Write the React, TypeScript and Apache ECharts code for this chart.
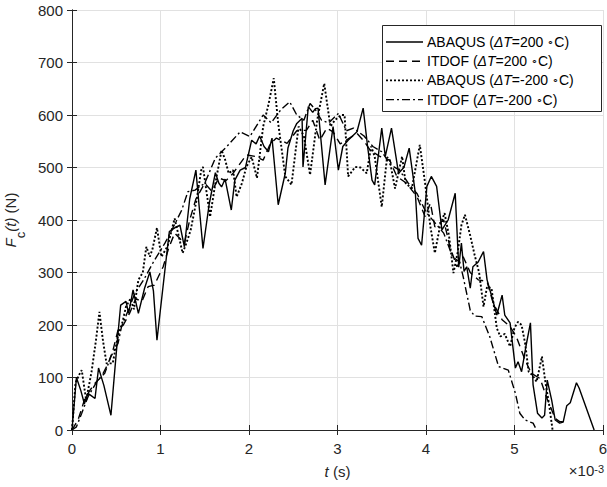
import React, { useEffect, useRef } from "react";
import * as echarts from "echarts";

// Time in units of 1e-3 s, cutting force in N
const abaqusHot: [number, number][] = [
  [0, 0], [0.05, 100], [0.1, 75], [0.14, 50], [0.18, 70], [0.22, 65], [0.26, 60], [0.3, 118],
  [0.36, 85], [0.44, 28], [0.51, 166], [0.55, 238], [0.61, 245], [0.64, 222], [0.69, 267],
  [0.75, 222], [0.82, 270], [0.88, 301], [0.92, 265], [0.96, 171], [1.05, 305], [1.1, 378],
  [1.16, 385], [1.22, 390], [1.27, 349], [1.33, 440], [1.4, 495], [1.44, 420], [1.48, 346],
  [1.55, 430], [1.62, 490], [1.66, 470], [1.69, 463], [1.73, 478], [1.8, 419], [1.84, 476],
  [1.9, 495], [1.96, 500], [2.03, 552], [2.08, 545], [2.12, 560], [2.17, 540], [2.22, 530],
  [2.26, 556], [2.33, 429], [2.41, 489], [2.44, 537], [2.5, 570], [2.54, 584], [2.6, 594],
  [2.61, 501], [2.67, 616], [2.72, 605], [2.75, 612], [2.78, 613], [2.86, 467], [2.95, 578],
  [3.01, 495], [3.06, 540], [3.12, 552], [3.22, 568], [3.29, 613], [3.34, 540], [3.39, 476],
  [3.42, 467], [3.5, 575], [3.54, 521], [3.61, 575], [3.69, 489], [3.75, 500], [3.81, 537],
  [3.88, 451], [3.91, 365], [3.95, 352], [4.01, 464], [4.06, 483], [4.12, 464], [4.18, 381],
  [4.25, 400], [4.33, 451], [4.37, 310], [4.4, 356], [4.43, 302], [4.46, 311], [4.5, 270],
  [4.53, 311], [4.59, 320], [4.65, 340], [4.69, 286], [4.75, 250], [4.8, 219], [4.86, 257],
  [4.89, 219], [4.95, 204], [5.01, 118], [5.04, 130], [5.08, 111], [5.13, 160], [5.18, 204],
  [5.21, 86], [5.26, 32], [5.31, 23], [5.34, 28], [5.37, 95], [5.42, 57], [5.46, 19],
  [5.51, 13], [5.55, 15], [5.59, 46], [5.63, 52], [5.7, 90], [5.73, 80], [5.9, 0],
];

const itdofHot: [number, number][] = [
  [0, 0], [0.07, 20], [0.14, 57], [0.2, 75], [0.26, 89], [0.33, 101], [0.41, 127], [0.46, 150],
  [0.52, 190], [0.58, 200], [0.65, 222], [0.72, 250], [0.79, 245], [0.86, 273], [0.93, 276],
  [1.03, 311], [1.09, 345], [1.16, 375], [1.27, 356], [1.33, 400], [1.4, 440], [1.5, 470],
  [1.58, 455], [1.66, 480], [1.74, 475], [1.82, 489], [1.97, 524], [2.07, 521], [2.16, 514],
  [2.24, 545], [2.31, 556], [2.43, 546], [2.54, 570], [2.65, 571], [2.72, 590], [2.8, 552],
  [2.88, 575], [2.95, 568], [3.03, 545], [3.1, 552], [3.22, 565], [3.3, 550], [3.37, 533],
  [3.48, 521], [3.59, 514], [3.67, 483], [3.78, 470], [3.9, 444], [3.99, 406], [4.05, 432],
  [4.1, 387], [4.2, 400], [4.27, 349], [4.35, 311], [4.42, 330], [4.5, 300], [4.59, 286],
  [4.69, 283], [4.76, 241], [4.86, 210], [4.95, 197], [5.02, 178], [5.12, 133], [5.19, 108],
  [5.29, 98], [5.36, 63], [5.46, 22], [5.51, 16], [5.59, 16],
];

const abaqusCold: [number, number][] = [
  [0, 0], [0.04, 90], [0.08, 105], [0.11, 114], [0.16, 57], [0.22, 110], [0.27, 170],
  [0.31, 225], [0.35, 170], [0.39, 127], [0.46, 127], [0.52, 180], [0.57, 205], [0.61, 235],
  [0.66, 250], [0.7, 230], [0.75, 286], [0.8, 300], [0.84, 349], [0.88, 330], [0.91, 345],
  [0.96, 385], [1.01, 330], [1.08, 350], [1.16, 403], [1.25, 337], [1.29, 355], [1.34, 380],
  [1.41, 440], [1.46, 495], [1.48, 501], [1.56, 406], [1.62, 470], [1.69, 533], [1.73, 515],
  [1.77, 489], [1.82, 495], [1.86, 444], [1.92, 470], [1.97, 501], [2.03, 520], [2.09, 480],
  [2.16, 578], [2.22, 620], [2.28, 670], [2.33, 584], [2.41, 483], [2.48, 467], [2.56, 578],
  [2.62, 560], [2.69, 486], [2.77, 590], [2.85, 660], [2.92, 578], [2.97, 590], [3.04, 600],
  [3.08, 600], [3.12, 483], [3.2, 501], [3.26, 500], [3.33, 489], [3.38, 540], [3.42, 521],
  [3.5, 425], [3.56, 520], [3.59, 514], [3.65, 460], [3.73, 521], [3.77, 470], [3.84, 460],
  [3.93, 543], [3.99, 470], [4.05, 387], [4.1, 337], [4.16, 390], [4.21, 413], [4.26, 370],
  [4.31, 299], [4.36, 340], [4.4, 390], [4.44, 410], [4.5, 370], [4.55, 333], [4.6, 300],
  [4.65, 235], [4.69, 273], [4.74, 270], [4.8, 194], [4.84, 178], [4.89, 183], [4.95, 159],
  [5.0, 195], [5.04, 206], [5.08, 200], [5.12, 165], [5.16, 111], [5.2, 105], [5.25, 92],
  [5.31, 140], [5.35, 90], [5.39, 50], [5.43, 0],
];

const itdofCold: [number, number][] = [
  [0, 0], [0.05, 6], [0.11, 32], [0.18, 63], [0.29, 95], [0.37, 108], [0.44, 140], [0.52, 165],
  [0.56, 197], [0.64, 230], [0.71, 260], [0.82, 289], [0.92, 320], [1.05, 356], [1.12, 378],
  [1.24, 419], [1.31, 454], [1.39, 457], [1.5, 470], [1.62, 518], [1.75, 540], [1.9, 568],
  [2.01, 559], [2.16, 600], [2.25, 585], [2.36, 610], [2.46, 625], [2.54, 600], [2.62, 590],
  [2.69, 622], [2.75, 610], [2.82, 590], [2.9, 585], [3.01, 603], [3.1, 570], [3.18, 575],
  [3.3, 560], [3.4, 540], [3.5, 530], [3.6, 505], [3.7, 495], [3.8, 470], [3.9, 450],
  [4.0, 415], [4.1, 395], [4.2, 375], [4.3, 330], [4.38, 320], [4.42, 292], [4.5, 228],
  [4.55, 217], [4.63, 216], [4.72, 178], [4.82, 121], [4.93, 114], [5.01, 70], [5.06, 32],
  [5.12, 19], [5.21, 13], [5.25, 0],
];

const seriesNames = [
  "ABAQUS (ΔT=200 ∘C)",
  "ITDOF (ΔT=200 ∘C)",
  "ABAQUS (ΔT=-200 ∘C)",
  "ITDOF (ΔT=-200 ∘C)",
];
const seriesData = [abaqusHot, itdofHot, abaqusCold, itdofCold];
const dashPatterns: (number[] | null)[] = [null, [8, 5], [2, 2], [8, 3, 2, 3]];
const widths = [1.4, 1.4, 1.9, 1.4];

const FONT = "'Liberation Sans', Arial, Helvetica, sans-serif";
const AXIS_COLOR = "#262626";
const GRID_COLOR = "#e1e1e1";

// Legend box geometry (pixels)
const LEG_LEFT = 382;
const LEG_TOP = 25;
const LEG_W = 219;
const LEG_H = 86;
const LEG_ROW0 = 42;
const LEG_ROW_STEP = 19.2;
const LEG_Z = 100;

function legendRichText(name: string) {
  return name.replace("ΔT", "{i|ΔT}").replace("∘", "{d|∘}");
}

function legendGraphic() {
  const items: any[] = [
    {
      type: "rect",
      z: LEG_Z,
      shape: { x: LEG_LEFT + 0.5, y: LEG_TOP + 0.5, width: LEG_W, height: LEG_H },
      style: { fill: "#fff", stroke: AXIS_COLOR, lineWidth: 1 },
    },
  ];
  seriesNames.forEach((name, i) => {
    const y = LEG_ROW0 + i * LEG_ROW_STEP;
    const dash = dashPatterns[i];
    items.push({
      type: "line",
      z: LEG_Z + 1,
      shape: { x1: 386, y1: y, x2: 423, y2: y },
      style: {
        stroke: "#000",
        lineWidth: widths[i],
        lineDash: dash ? dash : undefined,
      },
    });
    items.push({
      type: "text",
      z: LEG_Z + 1,
      x: 427,
      y,
      style: {
        text: legendRichText(name),
        fill: "#000",
        font: `14px ${FONT}`,
        verticalAlign: "middle",
        align: "left",
        rich: {
          i: { fontStyle: "italic", fontSize: 14, fill: "#000", fontFamily: FONT },
          d: { fontSize: 11, fill: "#000", fontFamily: FONT },
        },
      },
    });
  });
  return items;
}

export default function App() {
  const ref = useRef<HTMLDivElement>(null);

  useEffect(() => {
    if (!ref.current) return;
    const chart = echarts.init(ref.current, undefined, { renderer: "svg" });

    const boxAxis = (extra: any) => ({
      type: "value",
      min: 0,
      axisLine: { show: true, lineStyle: { color: AXIS_COLOR, width: 1 } },
      axisTick: { show: true, inside: true, length: 5, lineStyle: { color: AXIS_COLOR } },
      axisLabel: { show: false },
      splitLine: { show: false },
      ...extra,
    });

    chart.setOption({
      animation: false,
      backgroundColor: "#fff",
      textStyle: { fontFamily: FONT },
      grid: {
        left: 72,
        right: 4,
        top: 10,
        bottom: 57,
        containLabel: false,
        outerBoundsMode: "none",
      },
      xAxis: [
        boxAxis({
          position: "bottom",
          max: 6,
          interval: 1,
          axisLabel: { show: true, color: AXIS_COLOR, fontSize: 15, margin: 11, fontFamily: FONT },
          splitLine: { show: true, lineStyle: { color: GRID_COLOR, width: 1 } },
          name: "{i|t} (s)",
          nameLocation: "middle",
          nameGap: 34,
          nameTextStyle: {
            color: AXIS_COLOR,
            fontSize: 15,
            fontFamily: FONT,
            rich: {
              i: { fontStyle: "italic", fontSize: 15, color: AXIS_COLOR, fontFamily: FONT },
            },
          },
        }),
        boxAxis({ position: "top", max: 6, interval: 1 }),
      ],
      yAxis: [
        boxAxis({
          position: "left",
          max: 800,
          interval: 100,
          axisLabel: { show: true, color: AXIS_COLOR, fontSize: 15, margin: 9, fontFamily: FONT },
          splitLine: { show: true, lineStyle: { color: GRID_COLOR, width: 1 } },
          name: "{i|F}{s|c}{i|(t)}{n| (N)}",
          nameLocation: "middle",
          nameRotate: 90,
          nameGap: 32,
          nameTextStyle: {
            color: AXIS_COLOR,
            fontSize: 15,
            fontFamily: FONT,
            rich: {
              i: { fontStyle: "italic", fontSize: 15, lineHeight: 34, verticalAlign: "middle", color: AXIS_COLOR, fontFamily: FONT },
              n: { fontSize: 15, lineHeight: 34, verticalAlign: "middle", color: AXIS_COLOR, fontFamily: FONT },
              s: { fontSize: 13, lineHeight: 13, verticalAlign: "bottom", color: AXIS_COLOR, fontFamily: FONT },
            },
          },
        }),
        boxAxis({ position: "right", max: 800, interval: 100 }),
      ],
      graphic: {
        elements: [
          ...legendGraphic(),
          {
            type: "text",
            right: 3,
            top: 463,
            z: LEG_Z,
            style: {
              text: "×10{sup|-3}",
              fill: AXIS_COLOR,
              font: `15px ${FONT}`,
              rich: {
                sup: { fontSize: 11, lineHeight: 11, verticalAlign: "top", fill: AXIS_COLOR, fontFamily: FONT },
              },
            },
          },
        ],
      },
      series: seriesNames.map((name, i) => ({
        name,
        type: "line",
        xAxisIndex: 0,
        yAxisIndex: 0,
        data: seriesData[i],
        symbol: "none",
        clip: true,
        z: 2,
        lineStyle: { color: "#000", width: widths[i], type: dashPatterns[i] || "solid" },
        itemStyle: { color: "#000" },
        emphasis: { disabled: true },
      })),
    });

    return () => chart.dispose();
  }, []);

  return (
    <div
      ref={ref}
      style={{ position: "fixed", left: 0, top: 0, width: 607, height: 487, background: "#fff" }}
    />
  );
}
